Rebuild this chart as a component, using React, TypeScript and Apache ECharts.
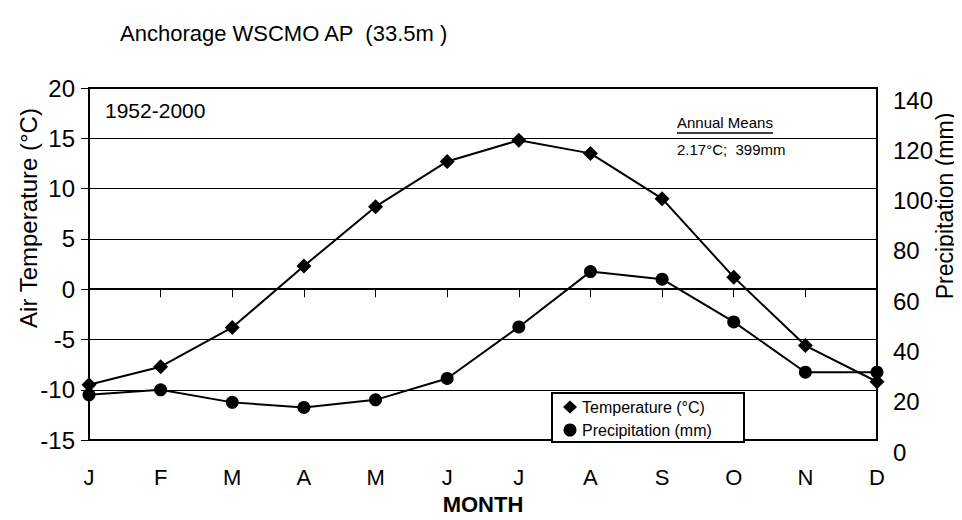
import React, { useEffect, useRef } from "react";
import * as echarts from "echarts";

const months = ["J", "F", "M", "A", "M", "J", "J", "A", "S", "O", "N", "D"];
const temperature = [-9.5, -7.7, -3.8, 2.3, 8.2, 12.7, 14.8, 13.5, 9.0, 1.2, -5.6, -9.2];
const precipitation = [18, 20, 15, 13, 16, 24.5, 45, 67, 64, 47, 27, 27];
const tempTicks = { min: -15, max: 20, interval: 5 };
const precTicks = { min: 0, max: 140, interval: 20 };

const FONT = "'Liberation Sans', Arial, sans-serif";

export default function App() {
  const ref = useRef<HTMLDivElement>(null);
  useEffect(() => {
    if (!ref.current) return;
    const chart = echarts.init(ref.current, undefined, { renderer: "svg" });
    chart.setOption({
      animation: false,
      backgroundColor: "#fff",
      textStyle: { fontFamily: FONT, color: "#000" },
      grid: {
        left: 89,
        right: 85,
        top: 88,
        bottom: 77,
        containLabel: false,
        show: true,
        borderColor: "#000",
        borderWidth: 2,
        backgroundColor: "transparent",
      },
      legend: {
        left: 563,
        top: 399,
        orient: "vertical",
        itemGap: 7,
        itemWidth: 14,
        itemHeight: 13,
        padding: 0,
        z: 20,
        textStyle: { fontFamily: FONT, fontSize: 16, color: "#000" },
        data: [
          { name: "Temperature (°C)", icon: "diamond" },
          { name: "Precipitation (mm)", icon: "circle" },
        ],
      },
      xAxis: {
        type: "category",
        data: months,
        boundaryGap: false,
        axisLine: { lineStyle: { color: "#000", width: 2 } },
        axisTick: { show: true, length: 8, inside: false, lineStyle: { color: "#000", width: 1 } },
        axisLabel: { fontSize: 22, color: "#000", fontFamily: FONT, margin: 26 },
        splitLine: { show: false },
        name: "MONTH",
        nameLocation: "middle",
        nameGap: 51,
        nameTextStyle: { fontSize: 22, fontWeight: "bold", color: "#000", fontFamily: FONT },
      },
      yAxis: [
        {
          type: "value",
          min: tempTicks.min,
          max: tempTicks.max,
          interval: tempTicks.interval,
          axisLine: { show: true, lineStyle: { color: "#000", width: 2 } },
          axisTick: { show: true, length: 8, inside: false, lineStyle: { color: "#000", width: 1 } },
          axisLabel: { fontSize: 24, color: "#000", fontFamily: FONT, margin: 14 },
          splitLine: { show: true, lineStyle: { color: "#000", width: 1.2 } },
        },
        {
          type: "value",
          min: precTicks.min,
          max: precTicks.max,
          interval: precTicks.interval,
          position: "right",
          axisLine: { show: false },
          axisTick: { show: false },
          axisLabel: {
            fontSize: 24,
            color: "#000",
            fontFamily: FONT,
            margin: 16,
            verticalAlign: "top",
          },
          splitLine: { show: false },
        },
      ],
      graphic: [
        {
          type: "text",
          left: 120,
          top: 22,
          style: { text: "Anchorage WSCMO AP  (33.5m )", font: `22px ${FONT}`, fill: "#000" },
        },
        {
          type: "text",
          left: 105,
          top: 100,
          style: { text: "1952-2000", font: `21px ${FONT}`, fill: "#000" },
        },
        {
          type: "text",
          left: 677,
          top: 115,
          style: { text: "Annual Means", font: `15px ${FONT}`, fill: "#000" },
        },
        {
          type: "line",
          shape: { x1: 677, y1: 133, x2: 773, y2: 133 },
          style: { stroke: "#000", lineWidth: 1.5 },
        },
        {
          type: "text",
          left: 677,
          top: 142,
          style: { text: "2.17°C;  399mm", font: `15px ${FONT}`, fill: "#000" },
        },
        {
          type: "text",
          x: 28,
          y: 218,
          rotation: Math.PI / 2,
          style: {
            text: "Air Temperature (°C)",
            font: `24px ${FONT}`,
            fill: "#000",
            align: "center",
            verticalAlign: "middle",
          },
        },
        {
          type: "text",
          x: 945,
          y: 206,
          rotation: Math.PI / 2,
          style: {
            text: "Precipitation (mm)",
            font: `23px ${FONT}`,
            fill: "#000",
            align: "center",
            verticalAlign: "middle",
          },
        },
        {
          type: "rect",
          shape: { x: 552, y: 393, width: 192, height: 49 },
          style: { fill: "#fff", stroke: "#000", lineWidth: 2 },
          z: 1,
        },
      ],
      series: [
        {
          name: "Temperature (°C)",
          type: "line",
          data: temperature,
          yAxisIndex: 0,
          symbol: "diamond",
          symbolSize: 15,
          lineStyle: { color: "#000", width: 2 },
          itemStyle: { color: "#000" },
          z: 3,
        },
        {
          name: "Precipitation (mm)",
          type: "line",
          data: precipitation,
          yAxisIndex: 1,
          symbol: "circle",
          symbolSize: 13,
          lineStyle: { color: "#000", width: 2 },
          itemStyle: { color: "#000" },
          z: 3,
        },
      ],
    });
    return () => chart.dispose();
  }, []);
  return <div ref={ref} style={{ width: 962, height: 520, margin: -8 }} />;
}
